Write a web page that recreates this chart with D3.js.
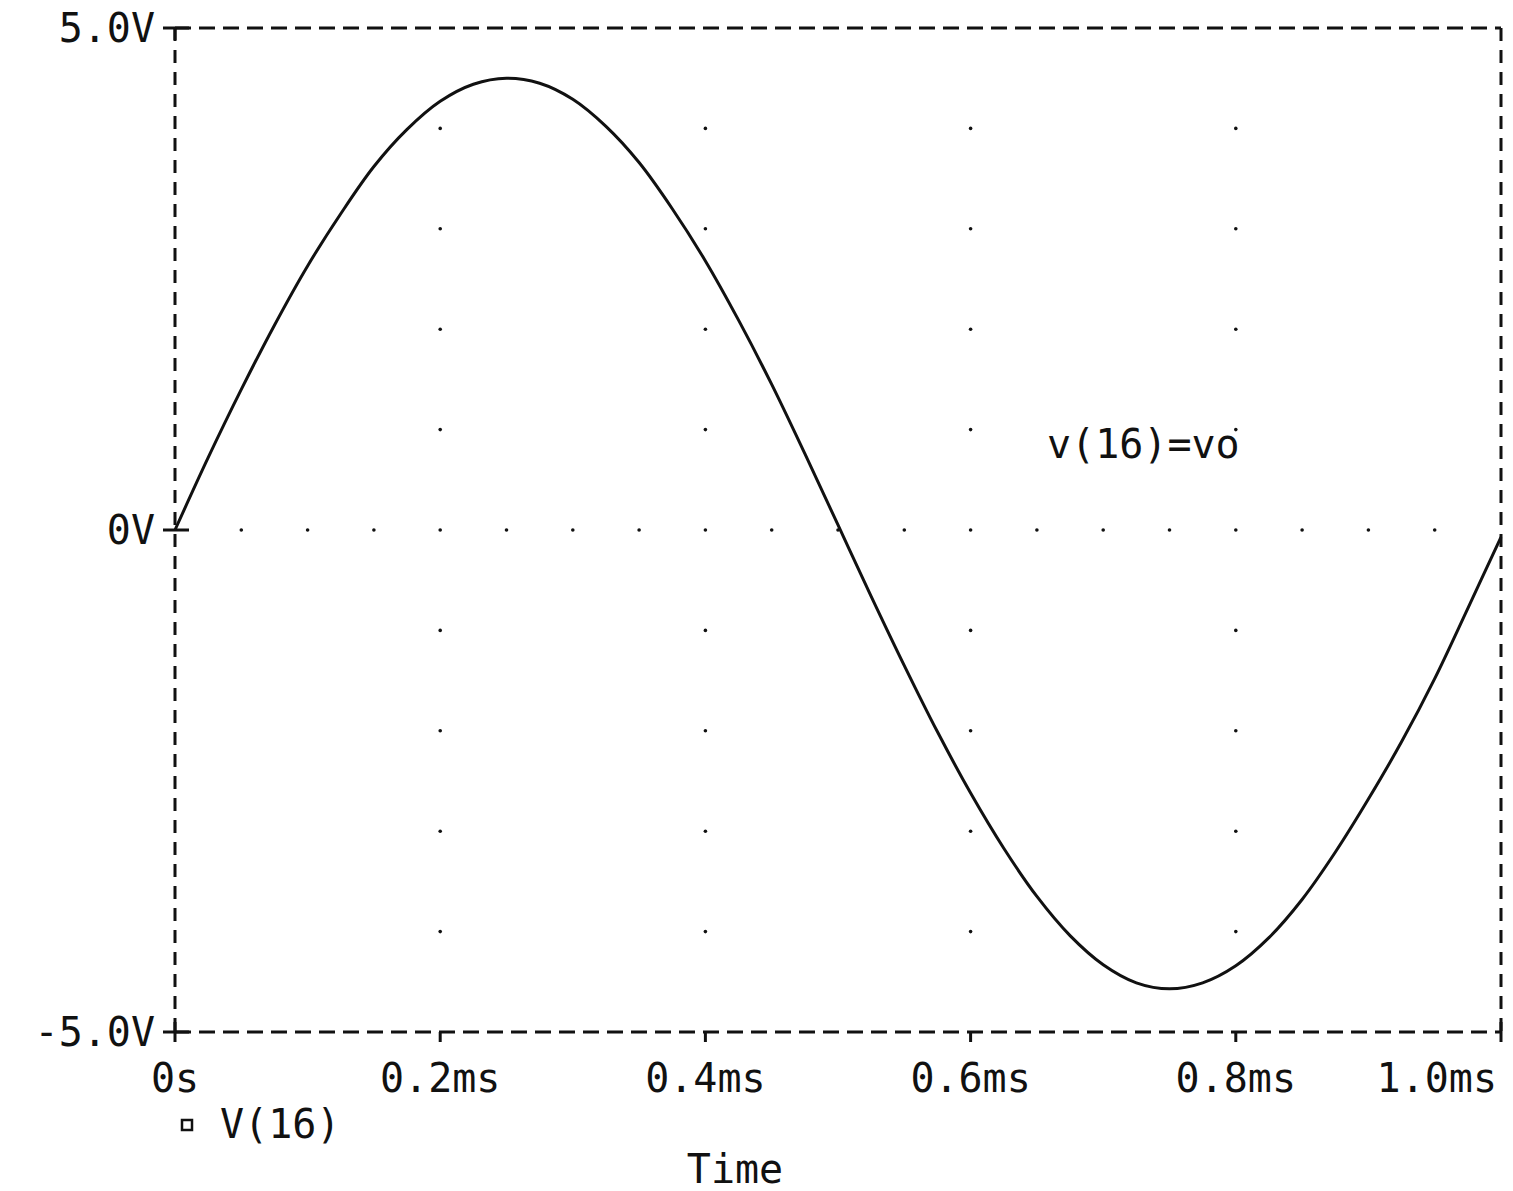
<!DOCTYPE html>
<html>
<head>
<meta charset="utf-8">
<script src="https://cdn.jsdelivr.net/npm/d3@7"></script>
<style>
    body { margin: 0; background: #fff; }
    text { font-family: "DejaVu Sans Mono", monospace; fill: #111; }
</style>
</head>
<body>
<div id="chart"></div>
<script>
// Data (time in ms, voltage in V)
const timeMs = [0, 0.025, 0.05, 0.075, 0.1, 0.125, 0.15, 0.175, 0.2, 0.225,
    0.25, 0.275, 0.3, 0.325, 0.35, 0.375, 0.4, 0.425, 0.45, 0.475,
    0.5, 0.525, 0.55, 0.575, 0.6, 0.625, 0.65, 0.675, 0.7, 0.725,
    0.75, 0.775, 0.8, 0.825, 0.85, 0.875, 0.9, 0.925, 0.95, 0.975, 1.0];
const voltage = [0, 0.72, 1.40, 2.04, 2.63, 3.15, 3.62, 3.99, 4.27, 4.44,
    4.50, 4.45, 4.29, 4.02, 3.66, 3.20, 2.68, 2.09, 1.45, 0.76,
    0.05, -0.66, -1.35, -2.01, -2.62, -3.17, -3.65, -4.04, -4.33, -4.51,
    -4.57, -4.51, -4.34, -4.06, -3.68, -3.21, -2.68, -2.11, -1.48, -0.78, -0.07];

const xTicks = [0, 0.2, 0.4, 0.6, 0.8, 1.0];
const xTickLabels = ["0s", "0.2ms", "0.4ms", "0.6ms", "0.8ms", "1.0ms"];
const yTicks = [-5, 0, 5];
const yTickLabels = ["-5.0V", "0V", "5.0V"];
const gridDotTimes = [0.2, 0.4, 0.6, 0.8];
const gridDotVolts = [-4, -3, -2, -1, 1, 2, 3, 4];
const zeroRowDotTimes = d3.range(1, 20).map(i => i * 0.05);

const seriesName = "V(16)";
const annotation = "v(16)=vo";

const W = 1513, H = 1191;
const svg = d3.select("#chart").append("svg")
    .attr("width", W)
    .attr("height", H);

const x = d3.scaleLinear().domain([0, 1]).range([175, 1501]);
const y = d3.scaleLinear().domain([-5, 5]).range([1032, 28]);

const ink = "#111";

// Grid dots
svg.append("g")
    .selectAll("circle")
    .data(d3.cross(gridDotTimes, gridDotVolts))
    .join("circle")
    .attr("cx", d => x(d[0]))
    .attr("cy", d => y(d[1]))
    .attr("r", 1.8)
    .attr("fill", ink);

svg.append("g")
    .selectAll("circle")
    .data(zeroRowDotTimes)
    .join("circle")
    .attr("cx", d => x(d))
    .attr("cy", y(0))
    .attr("r", 1.8)
    .attr("fill", ink);

// Dashed frame
const frame = svg.append("g")
    .attr("stroke", ink)
    .attr("stroke-width", 3)
    .attr("fill", "none");

frame.append("line")
    .attr("x1", x(0)).attr("x2", x(1))
    .attr("y1", y(5)).attr("y2", y(5))
    .attr("stroke-dasharray", "16,8");
frame.append("line")
    .attr("x1", x(0)).attr("x2", x(1))
    .attr("y1", y(-5)).attr("y2", y(-5))
    .attr("stroke-dasharray", "16,8");
frame.append("line")
    .attr("x1", x(0)).attr("x2", x(0))
    .attr("y1", y(5)).attr("y2", y(-5))
    .attr("stroke-dasharray", "13,9");
frame.append("line")
    .attr("x1", x(1)).attr("x2", x(1))
    .attr("y1", y(5)).attr("y2", y(-5))
    .attr("stroke-dasharray", "13,9");

// Tick marks
const ticks = svg.append("g")
    .attr("stroke", ink)
    .attr("stroke-width", 3);

ticks.selectAll(".ytick")
    .data(yTicks)
    .join("line")
    .attr("x1", x(0) - 12)
    .attr("x2", x(0) + 14)
    .attr("y1", d => y(d))
    .attr("y2", d => y(d));

ticks.selectAll(".xtick")
    .data(xTicks.slice(1))
    .join("line")
    .attr("x1", d => x(d))
    .attr("x2", d => x(d))
    .attr("y1", d => y(-5) - (d === 1 ? 10 : 0))
    .attr("y2", y(-5) + 10);

ticks.append("line")
    .attr("x1", x(0)).attr("x2", x(0))
    .attr("y1", y(-5) - 10).attr("y2", y(-5) + 10);
ticks.append("line")
    .attr("x1", x(0)).attr("x2", x(0))
    .attr("y1", y(5)).attr("y2", y(5) + 12);

// Axis labels
svg.append("g")
    .selectAll("text")
    .data(yTicks)
    .join("text")
    .attr("x", 155)
    .attr("y", d => y(d))
    .attr("dy", "0.36em")
    .attr("text-anchor", "end")
    .style("font-size", "40px")
    .text((d, i) => yTickLabels[i]);

svg.append("g")
    .selectAll("text")
    .data(xTicks)
    .join("text")
    .attr("x", d => d === 1 ? x(d) - 4 : x(d))
    .attr("y", 1092)
    .attr("text-anchor", d => d === 1 ? "end" : "middle")
    .style("font-size", "40px")
    .text((d, i) => xTickLabels[i]);

svg.append("text")
    .attr("x", 735)
    .attr("y", 1183)
    .attr("text-anchor", "middle")
    .style("font-size", "40px")
    .text("Time");

// Legend
svg.append("rect")
    .attr("x", 182).attr("y", 1120)
    .attr("width", 10).attr("height", 10)
    .attr("fill", "none")
    .attr("stroke", ink)
    .attr("stroke-width", 2.5);
svg.append("text")
    .attr("x", 220)
    .attr("y", 1138)
    .style("font-size", "40px")
    .text(seriesName);

// Annotation
svg.append("text")
    .attr("x", 1047)
    .attr("y", 458)
    .style("font-size", "40px")
    .text(annotation);

// Waveform
const data = timeMs.map((t, i) => ({ t, v: voltage[i] }));
svg.append("path")
    .datum(data)
    .attr("fill", "none")
    .attr("stroke", ink)
    .attr("stroke-width", 3)
    .attr("d", d3.line()
        .x(d => x(d.t))
        .y(d => y(d.v))
        .curve(d3.curveCatmullRom)
    );
</script>
</body>
</html>
